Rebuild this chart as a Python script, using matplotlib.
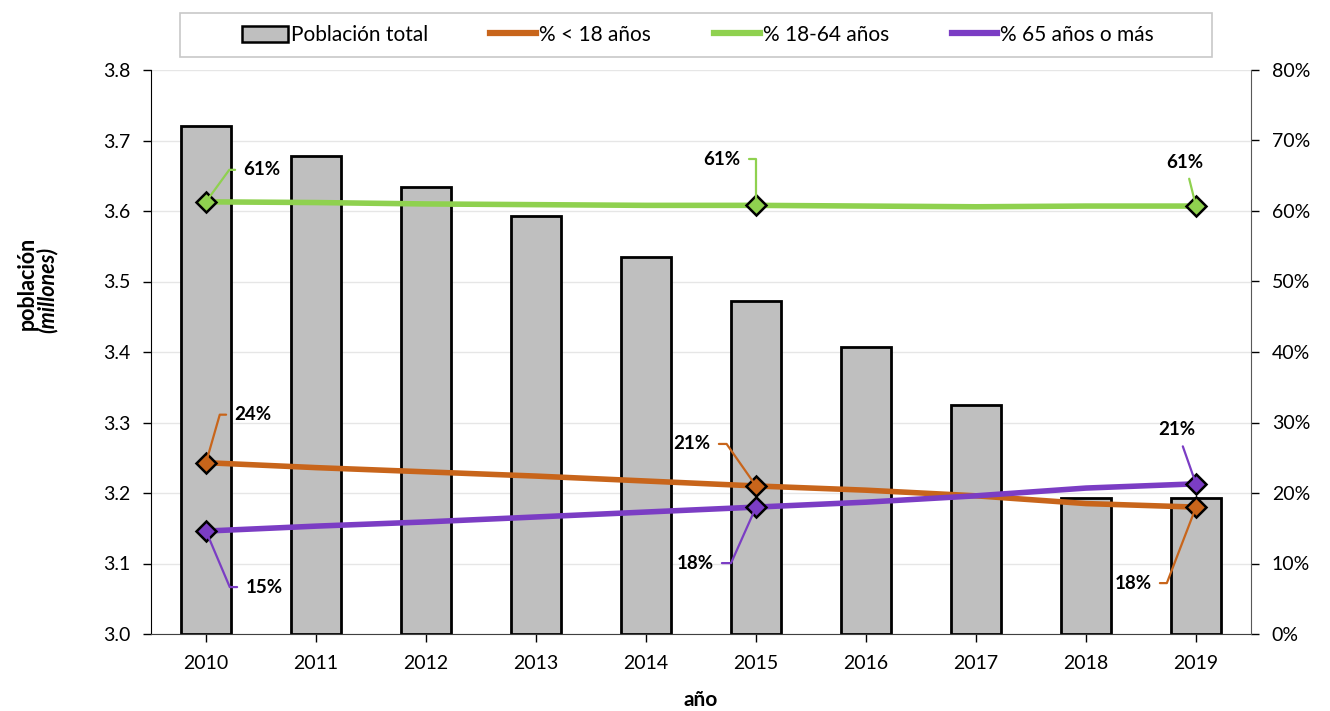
import matplotlib
matplotlib.use("Agg")
import matplotlib.pyplot as plt
from matplotlib.patches import Rectangle, Patch
from matplotlib.lines import Line2D
import numpy as np

years = ["2010", "2011", "2012", "2013", "2014", "2015", "2016", "2017", "2018", "2019"]
poblacion = [3.721, 3.678, 3.634, 3.593, 3.535, 3.472, 3.407, 3.325, 3.193, 3.193]
pct_menor18 = [24.3, 23.6, 23.0, 22.4, 21.7, 21.0, 20.4, 19.6, 18.5, 18.0]
pct_18_64 = [61.3, 61.2, 61.0, 60.9, 60.8, 60.8, 60.7, 60.6, 60.7, 60.7]
pct_65mas = [14.6, 15.3, 15.9, 16.6, 17.3, 18.0, 18.7, 19.6, 20.7, 21.3]
left_ticks = [3.0, 3.1, 3.2, 3.3, 3.4, 3.5, 3.6, 3.7, 3.8]
right_ticks = [0, 10, 20, 30, 40, 50, 60, 70, 80]

plt.rcParams['font.family'] = ['Lato', 'DejaVu Sans']

C_OR = "#C8651B"
C_GR = "#8FD14F"
C_PU = "#7B3DC4"
C_BAR = "#BFBFBF"

fig = plt.figure(figsize=(13.3, 7.11), dpi=100)
ax = fig.add_axes([151/1330, 1-634/711, 1100/1330, 564/711])
x = np.arange(len(years))

ax.bar(x, [p - 3.0 for p in poblacion], bottom=3.0, width=0.45, color=C_BAR,
       edgecolor="black", linewidth=2, zorder=2)
ax.set_xlim(-0.5, len(years) - 0.5)
ax.set_ylim(3.0, 3.8)
ax.set_yticks(left_ticks)
ax.set_yticklabels([f"{t:.1f}" for t in left_ticks])
ax.set_xticks(x)
ax.set_xticklabels(years)
ax.grid(axis="y", color="#E6E6E6", linewidth=1, zorder=0)
ax.set_axisbelow(True)
ax.tick_params(axis="both", labelsize=14, colors="black", length=6, width=1, pad=9)
ax.tick_params(axis="x", pad=9)
ax.spines["top"].set_visible(False)
ax.spines["left"].set_color("black")
ax.spines["bottom"].set_color("#404040")
ax.spines["right"].set_visible(False)

ax2 = ax.twinx()
ax2.set_ylim(0, 80)
ax2.set_yticks(right_ticks)
ax2.set_yticklabels([f"{t}%" for t in right_ticks])
ax2.tick_params(axis="y", labelsize=14, length=6, width=1, pad=9, colors="black")
ax2.spines["top"].set_visible(False)
ax2.spines["left"].set_visible(False)
ax2.spines["bottom"].set_visible(False)
ax2.spines["right"].set_color("#595959")

series = [(pct_18_64, C_GR), (pct_menor18, C_OR), (pct_65mas, C_PU)]
for vals, col in series:
    ax2.plot(x, vals, color=col, linewidth=4, solid_capstyle="round", zorder=3)
    idx = [0, 5, 9]
    ax2.plot([x[i] for i in idx], [vals[i] for i in idx], linestyle="none",
             marker="D", markersize=10.5, markerfacecolor=col, markeredgecolor="black",
             markeredgewidth=1.8, zorder=5)

annots = [
    (pct_18_64, C_GR, 0, (56, 32), "angle,angleA=0,angleB=54,rad=0"),
    (pct_menor18, C_OR, 0, (47, 48), "angle,angleA=0,angleB=74,rad=0"),
    (pct_65mas, C_PU, 0, (58, -56), "angle,angleA=0,angleB=-67,rad=0"),
    (pct_18_64, C_GR, 5, (-34, 46), "angle,angleA=0,angleB=90,rad=0"),
    (pct_menor18, C_OR, 5, (-64, 42), "angle,angleA=0,angleB=125,rad=0"),
    (pct_65mas, C_PU, 5, (-61, -56), "angle,angleA=0,angleB=66,rad=0"),
    (pct_18_64, C_GR, 9, (-11, 44), "arc3,rad=0"),
    (pct_65mas, C_PU, 9, (-19, 54), "arc3,rad=0"),
    (pct_menor18, C_OR, 9, (-63, -76), "angle,angleA=0,angleB=69,rad=0"),
]
for vals, col, i, off, cs in annots:
    ax2.annotate(f"{round(vals[i])}%", xy=(x[i], vals[i]), xytext=off,
                 textcoords="offset pixels", ha="center", va="center",
                 fontsize=13.5, fontweight="bold", color="black", zorder=6,
                 arrowprops=dict(arrowstyle="-", color=col, lw=1.6,
                                 connectionstyle=cs, shrinkA=4, shrinkB=0))

fig.text(27/1330, 1-283/711, "población", rotation=90, ha="center", va="center",
         fontsize=15.5, fontweight="bold")
fig.text(47/1330, 1-290/711, "(millones)", rotation=90, ha="center", va="center",
         fontsize=15.5, fontstyle="italic", fontweight="bold")
fig.text(701/1330, 1-700/711, "año", ha="center", va="center",
         fontsize=15, fontweight="bold")

fig.patches.append(Rectangle((180/1330, 1-57/711), 1032/1330, 44/711,
                             transform=fig.transFigure, facecolor="white",
                             edgecolor="#C8C8C8", linewidth=1.2))
handles = [
    Patch(facecolor=C_BAR, edgecolor="black", linewidth=1.8),
    Line2D([0], [0], color=C_OR, linewidth=4.5),
    Line2D([0], [0], color=C_GR, linewidth=4.5),
    Line2D([0], [0], color=C_PU, linewidth=4.5),
]
labels = ["Población total", "% < 18 años", "% 18-64 años", "% 65 años o más"]
fig.legend(handles, labels, loc="center", bbox_to_anchor=(698/1330, 1-35/711),
           ncol=4, frameon=False, fontsize=15, handlelength=2.2,
           handleheight=0.8, handletextpad=0.15, columnspacing=3.0)

fig.savefig("out.png", dpi=100)
